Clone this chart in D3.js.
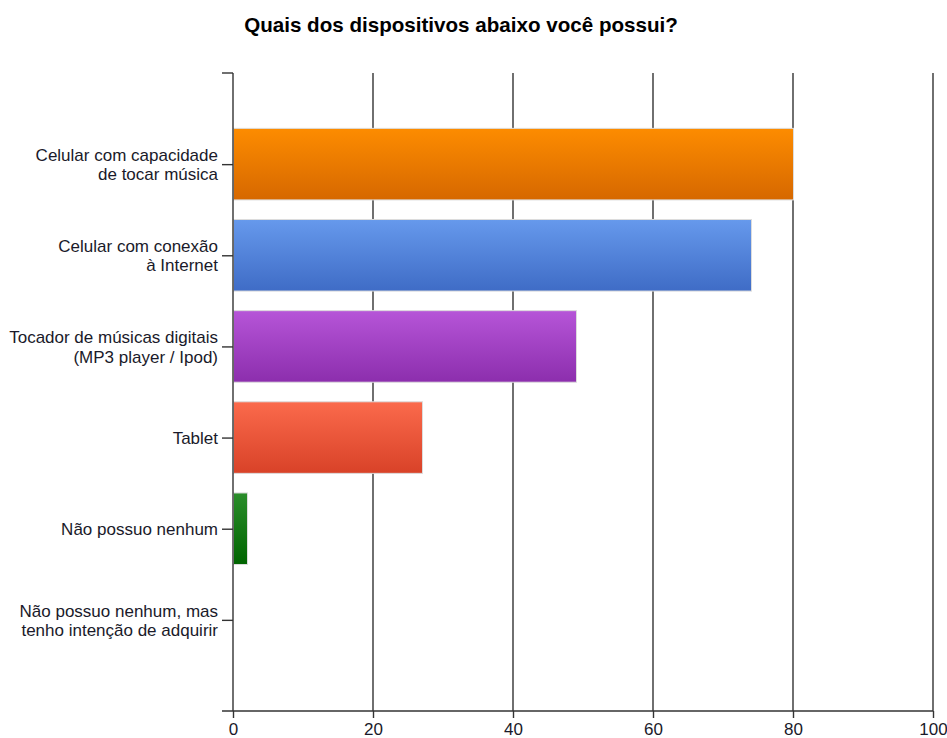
<!DOCTYPE html>
<html>
<head>
<meta charset="utf-8">
<script src="https://cdn.jsdelivr.net/npm/d3@7"></script>
<style>
  html, body { margin: 0; padding: 0; background: #fff; }
  svg { display: block; font-family: "Liberation Sans", Arial, sans-serif; }
</style>
</head>
<body>
<svg id="chart" width="947" height="738"></svg>
<script>
// Survey answers: devices owned
const categories = [
  ["Celular com capacidade", "de tocar música"],
  ["Celular com conexão", "à Internet"],
  ["Tocador de músicas digitais", "(MP3 player / Ipod)"],
  ["Tablet"],
  ["Não possuo nenhum"],
  ["Não possuo nenhum, mas", "tenho intenção de adquirir"]
];
const values = [80, 74, 49, 27, 2, 0];
const xTicks = [0, 20, 40, 60, 80, 100];
const barColors = [
  ["#fd8c00", "#d66800"],
  ["#6699ec", "#3f6cc6"],
  ["#b655d8", "#8c2ead"],
  ["#fb6a4c", "#d84228"],
  ["#2b8d2b", "#006400"],
  ["#cccccc", "#999999"]
];
const title = "Quais dos dispositivos abaixo você possui?";

const svg = d3.select("#chart");
const plotLeft = 233, plotRight = 933, plotTop = 73, plotBottom = 711;

const x = d3.scaleLinear().domain([0, 100]).range([plotLeft, plotRight]);
const keys = categories.map((c, i) => i);
const y = d3.scalePoint().domain(keys).range([plotTop, plotBottom]).padding(1);
const barH = y.step() * 0.785;

// vertical gradients for the bars
const defs = svg.append("defs");
barColors.forEach((c, i) => {
  const g = defs.append("linearGradient").attr("id", "g" + i)
    .attr("x1", 0).attr("y1", 0).attr("x2", 0).attr("y2", 1);
  g.append("stop").attr("offset", "0%").attr("stop-color", c[0]);
  g.append("stop").attr("offset", "100%").attr("stop-color", c[1]);
});

// title
svg.append("text")
  .attr("x", 461).attr("y", 32)
  .attr("text-anchor", "middle")
  .attr("font-size", 20.6).attr("font-weight", "bold").attr("fill", "#000")
  .text(title);

// vertical gridlines
svg.append("g").selectAll("line").data(xTicks.slice(1)).join("line")
  .attr("x1", d => x(d)).attr("x2", d => x(d))
  .attr("y1", plotTop).attr("y2", plotBottom)
  .attr("stroke", "#333").attr("stroke-width", 1.4);

// bars
const rows = values.map((v, i) => ({ v, i })).filter(d => d.v > 0);
svg.append("g").selectAll("rect").data(rows).join("rect")
  .attr("x", x(0) + 0.5)
  .attr("y", d => y(d.i) - barH / 2)
  .attr("width", d => x(d.v) - x(0))
  .attr("height", barH)
  .attr("fill", d => `url(#g${d.i})`)
  .attr("stroke", "#dcdcdc").attr("stroke-width", 1);

// x axis
const xAxis = svg.append("g").attr("transform", `translate(0,${plotBottom})`)
  .call(d3.axisBottom(x).tickValues(xTicks).tickSize(7).tickSizeOuter(0));
xAxis.select(".domain").remove();
xAxis.selectAll(".tick line").attr("stroke", "#333").attr("stroke-width", 1.4);
xAxis.selectAll(".tick text").attr("font-size", 17).attr("fill", "#1a1a2a")
  .attr("y", 12).attr("dy", "0.71em");
xAxis.append("line").attr("x1", plotLeft - 11).attr("x2", plotRight)
  .attr("y1", 0).attr("y2", 0).attr("stroke", "#333").attr("stroke-width", 1.4);

// y axis
const yAxis = svg.append("g").attr("transform", `translate(${plotLeft},0)`)
  .call(d3.axisLeft(y).tickSize(11).tickFormat(() => ""));
yAxis.select(".domain").remove();
yAxis.selectAll(".tick line").attr("stroke", "#333").attr("stroke-width", 1.4);
yAxis.append("line").attr("x1", 0).attr("x2", 0).attr("y1", plotTop).attr("y2", plotBottom)
  .attr("stroke", "#333").attr("stroke-width", 1.4);
yAxis.append("line").attr("x1", -11).attr("x2", 0).attr("y1", plotTop).attr("y2", plotTop)
  .attr("stroke", "#333").attr("stroke-width", 1.4);

// category labels, wrapped onto one or two lines
const lh = 19.3;
yAxis.selectAll(".tick").each(function (d) {
  const lines = categories[d];
  const t = d3.select(this).append("text")
    .attr("text-anchor", "end")
    .attr("font-size", 17).attr("fill", "#1a1a2a");
  const y0 = 6 - (lines.length - 1) * lh / 2;
  lines.forEach((s, k) => {
    t.append("tspan").attr("x", -15).attr("y", y0 + k * lh).text(s);
  });
});
</script>
</body>
</html>
